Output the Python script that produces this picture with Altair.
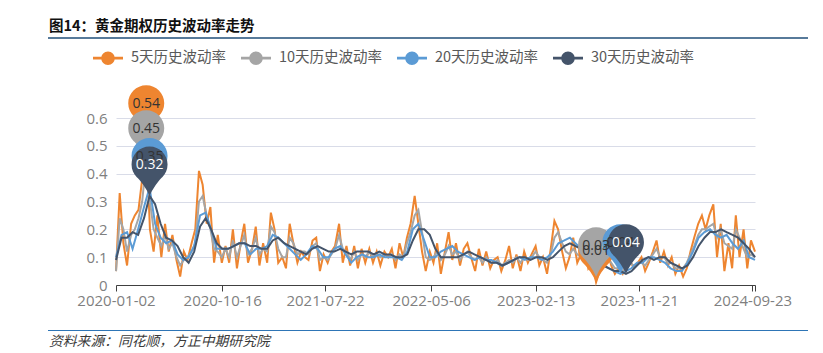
import altair as alt
import pandas as pd

TITLE = "图14：黄金期权历史波动率走势"
SOURCE = "资料来源：同花顺，方正中期研究院"
SERIES = ["5天历史波动率", "10天历史波动率", "20天历史波动率", "30天历史波动率"]
COLORS = ["#EE8530", "#A5A5A5", "#5B9BD5", "#44546A"]
START, END = "2020-01-02", "2024-09-30"
TICK_DATES = ["2020-01-02", "2020-10-16", "2021-07-22", "2022-05-06",
              "2023-02-13", "2023-11-21", "2024-09-23"]
Y_TICKS = [0, 0.1, 0.2, 0.3, 0.4, 0.5, 0.6]

vol5 = [0.05, 0.33, 0.15, 0.07, 0.22, 0.25, 0.27, 0.38, 0.54, 0.2, 0.12, 0.25, 0.1, 0.22, 0.12,
        0.18, 0.09, 0.03, 0.12, 0.09, 0.15, 0.2, 0.41, 0.36, 0.22, 0.28, 0.08, 0.18, 0.08,
        0.14, 0.08, 0.2, 0.06, 0.15, 0.22, 0.08, 0.13, 0.21, 0.07, 0.15, 0.08, 0.26, 0.2, 0.08,
        0.1, 0.06, 0.22, 0.15, 0.08, 0.12, 0.1, 0.09, 0.16, 0.17, 0.05, 0.11, 0.08, 0.12, 0.14,
        0.22, 0.08, 0.14, 0.07, 0.14, 0.06, 0.13, 0.08, 0.13, 0.08, 0.12,
        0.07, 0.12, 0.1, 0.13, 0.06, 0.15, 0.1, 0.17, 0.22, 0.32, 0.22, 0.12, 0.05, 0.12, 0.08,
        0.15, 0.04, 0.12, 0.19, 0.09, 0.15, 0.07, 0.13, 0.15, 0.1, 0.05, 0.13, 0.07, 0.12, 0.06,
        0.09, 0.1, 0.05, 0.09,
        0.14, 0.06, 0.11, 0.05, 0.12, 0.08, 0.11, 0.14, 0.07, 0.1, 0.04, 0.13, 0.23, 0.2, 0.12,
        0.06, 0.1, 0.17, 0.08, 0.11, 0.16, 0.06, 0.08, 0.01, 0.05, 0.1, 0.12, 0.07, 0.04, 0.06,
        0.04, 0.08, 0.09, 0.06, 0.08,
        0.1, 0.05, 0.08, 0.12, 0.16, 0.08, 0.12, 0.07, 0.1, 0.04, 0.07, 0.03, 0.06, 0.12, 0.17,
        0.22, 0.25, 0.2, 0.25, 0.29, 0.1, 0.22, 0.05, 0.15, 0.06, 0.25, 0.1, 0.2, 0.06, 0.16, 0.12]

vol10 = [0.05, 0.24, 0.2, 0.12, 0.18, 0.2, 0.24, 0.3, 0.45, 0.3, 0.2, 0.17, 0.14, 0.18, 0.13,
         0.15, 0.1, 0.07, 0.09, 0.1, 0.12, 0.15, 0.3, 0.32, 0.25, 0.2, 0.13, 0.12, 0.1,
         0.13, 0.1, 0.16, 0.1, 0.14, 0.18, 0.11, 0.13, 0.17, 0.11, 0.13, 0.12, 0.21, 0.19, 0.13,
         0.1, 0.1, 0.17, 0.15, 0.11, 0.12, 0.12, 0.11, 0.14, 0.15, 0.09, 0.1, 0.09, 0.11, 0.13,
         0.18, 0.13, 0.12, 0.09, 0.12, 0.09, 0.11, 0.1, 0.12, 0.1, 0.11,
         0.1, 0.11, 0.1, 0.11, 0.09, 0.11, 0.1, 0.15, 0.19, 0.25, 0.27, 0.19, 0.1, 0.09, 0.1,
         0.12, 0.09, 0.11, 0.14, 0.11, 0.12, 0.09, 0.11, 0.12, 0.1, 0.09, 0.1, 0.08, 0.1, 0.08,
         0.08, 0.09, 0.07, 0.08,
         0.09, 0.08, 0.1, 0.08, 0.1, 0.09, 0.1, 0.12, 0.1, 0.09, 0.08, 0.11, 0.17, 0.19, 0.15,
         0.12, 0.11, 0.13, 0.11, 0.1, 0.11, 0.08, 0.06, 0.03, 0.05, 0.08, 0.1, 0.08, 0.06, 0.06,
         0.05, 0.07, 0.08, 0.07, 0.08,
         0.08, 0.07, 0.09, 0.11, 0.13, 0.1, 0.1, 0.08, 0.08, 0.06, 0.06, 0.06, 0.08, 0.11, 0.14,
         0.18, 0.2, 0.2, 0.21, 0.22, 0.17, 0.2, 0.15, 0.14, 0.13, 0.2, 0.17, 0.13, 0.1, 0.11, 0.1]

vol20 = [0.1, 0.18, 0.19, 0.13, 0.2, 0.28, 0.35, 0.22, 0.17, 0.15, 0.16, 0.11, 0.09, 0.1, 0.14,
         0.25, 0.26, 0.2, 0.13, 0.13,
         0.13, 0.14, 0.15, 0.15, 0.11, 0.13, 0.13, 0.14, 0.18, 0.17, 0.15, 0.13, 0.11, 0.09, 0.11,
         0.14, 0.13, 0.1, 0.1, 0.13, 0.14, 0.11, 0.08, 0.1, 0.11, 0.1, 0.1,
         0.11, 0.1, 0.1, 0.1, 0.09, 0.12, 0.2, 0.22, 0.16, 0.1, 0.1, 0.12, 0.13, 0.14, 0.12,
         0.11, 0.1, 0.09, 0.1, 0.09, 0.09, 0.08, 0.07, 0.08,
         0.09, 0.1, 0.09, 0.1, 0.1, 0.09, 0.1, 0.12, 0.15, 0.16, 0.17, 0.15, 0.13, 0.11, 0.09,
         0.08, 0.07, 0.06, 0.05, 0.04, 0.05, 0.06, 0.08,
         0.08, 0.1, 0.1, 0.09, 0.08, 0.06, 0.05, 0.05, 0.08, 0.12, 0.17, 0.19, 0.2, 0.18, 0.17,
         0.18, 0.15, 0.13, 0.16, 0.1, 0.09]

vol30 = [0.09, 0.17, 0.17, 0.19, 0.18, 0.24, 0.32, 0.29, 0.22, 0.17, 0.16, 0.14, 0.1, 0.08, 0.12,
         0.21, 0.24, 0.2, 0.15, 0.13,
         0.13, 0.14, 0.15, 0.15, 0.14, 0.14, 0.13, 0.13, 0.16, 0.17, 0.15, 0.14, 0.13, 0.12, 0.11,
         0.13, 0.14, 0.13, 0.12, 0.12, 0.13, 0.12, 0.11, 0.12, 0.12, 0.12, 0.11,
         0.12, 0.11, 0.11, 0.1, 0.1, 0.11, 0.16, 0.2, 0.2, 0.18, 0.13, 0.1, 0.1, 0.1, 0.1,
         0.11, 0.12, 0.11, 0.1, 0.09, 0.08, 0.08, 0.07, 0.08,
         0.09, 0.1, 0.1, 0.09, 0.1, 0.1, 0.09, 0.1, 0.12, 0.14, 0.15, 0.14, 0.13, 0.11, 0.09,
         0.08, 0.07, 0.06, 0.05, 0.05, 0.04, 0.05, 0.07,
         0.09, 0.1, 0.09, 0.1, 0.1, 0.08, 0.07, 0.06, 0.07, 0.1, 0.14, 0.17, 0.19, 0.19, 0.2,
         0.19, 0.18, 0.17, 0.15, 0.13, 0.1]


def frame(name, idx, vals):
    dates = pd.date_range(START, END, periods=len(vals)).strftime("%Y-%m-%d")
    return pd.DataFrame({"date": list(dates), "series": name, "sidx": idx, "value": vals})


df = pd.concat([frame(SERIES[i], i, v) for i, v in enumerate([vol5, vol10, vol20, vol30])],
               ignore_index=True)


def ms(d):
    return int(pd.Timestamp(d, tz="UTC").value // 10**6)


tick_ms = [ms(d) for d in TICK_DATES] + [ms(END)]
last_label = ms(TICK_DATES[-1])

CJK = "Noto Sans CJK SC"
NUM = "Open Sans"

PIN = ("M0,-2.75C0.5523,-2.75,1,-2.3023,1,-1.75C1,-1.1977,0.5523,-0.75,0,-0.75"
       "C-0.5523,-0.75,-1,-1.1977,-1,-1.75C-1,-2.3023,-0.5523,-2.75,0,-2.75Z"
       "M0,0Q-0.25,-0.6,-0.821,-1.179L0.821,-1.179Q0.25,-0.6,0,0Z")
LEG = ("M-1,-0.09L1,-0.09L1,0.09L-1,0.09Z"
       "M0.45,0C0.45,0.2485,0.2485,0.45,0,0.45C-0.2485,0.45,-0.45,0.2485,-0.45,0"
       "C-0.45,-0.2485,-0.2485,-0.45,0,-0.45C0.2485,-0.45,0.45,-0.2485,0.45,0Z")

x_enc = alt.X("date:T",
              scale=alt.Scale(type="utc", domain=[ms(START), ms(END)]),
              axis=alt.Axis(values=tick_ms, format="%Y-%m-%d",
                            labelExpr=f"datum.value > {last_label} ? '' : datum.label",
                            title=None, grid=False, domainColor="#404040", tickColor="#404040",
                            tickSize=6, labelColor="#7F7F7F", labelFont=NUM, labelFontSize=15,
                            labelPadding=2, labelFlush=False, labelOverlap=False))
y_enc = alt.Y("value:Q",
              scale=alt.Scale(domain=[0, 0.6], nice=False),
              axis=alt.Axis(values=Y_TICKS, format="~g", title=None, domain=False, ticks=False,
                            grid=True, gridColor="#D9DCE8", gridWidth=1,
                            labelColor="#7F7F7F", labelFont=NUM, labelFontSize=15,
                            labelPadding=9))

base = alt.Chart(df)

# lines are coloured through the series index so that their (hidden) stroke legend
# is not merged with the visible colour legend of the pins
lines = base.mark_line(interpolate="linear").encode(
    x=x_enc, y=y_enc,
    stroke=alt.Stroke("sidx:N", scale=alt.Scale(domain=[0, 1, 2, 3], range=COLORS),
                      legend=None),
    strokeWidth=alt.StrokeWidth("sidx:N",
                                scale=alt.Scale(domain=[0, 1, 2, 3], range=[2, 2, 2, 2.5]),
                                legend=None),
)

pins = base.transform_joinaggregate(
    vmax="max(value)", vmin="min(value)", groupby=["series"]
).transform_filter("datum.value == datum.vmax || datum.value == datum.vmin")

pin_marks = pins.mark_point(shape=PIN, size=1296, filled=True, opacity=1,
                            strokeWidth=0).encode(
    x=x_enc, y=y_enc,
    color=alt.Color("series:N", scale=alt.Scale(domain=SERIES, range=COLORS),
                    legend=alt.Legend(title=None, orient="none", direction="horizontal",
                                      legendX=-23, legendY=-75, padding=0,
                                      symbolType=LEG, symbolSize=900, symbolStrokeWidth=0,
                                      symbolOpacity=1, labelOffset=8, columnPadding=14,
                                      labelFont=CJK, labelFontSize=14.5,
                                      labelColor="#595959", labelLimit=300)),
    order=alt.Order("sidx:Q"),
)

pin_text = pins.mark_text(dy=-31, baseline="middle", align="center", font=NUM,
                          fontSize=14).encode(
    x=x_enc, y=y_enc,
    text=alt.Text("value:Q", format=".2f"),
    color=alt.condition("datum.sidx == 3", alt.value("#FFFFFF"), alt.value("#333333")),
    order=alt.Order("sidx:Q"),
)

title = alt.Chart(pd.DataFrame({"t": [TITLE]})).mark_text(
    align="left", baseline="alphabetic", font=CJK, fontSize=14.5, fontWeight="bold",
    color="#111111").encode(x=alt.value(-67), y=alt.value(-87), text="t:N")

footer = alt.Chart(pd.DataFrame({"t": [SOURCE]})).mark_text(
    align="left", baseline="alphabetic", font=CJK, fontSize=13.8, fontStyle="italic",
    color="#3A3A3A").encode(x=alt.value(-67), y=alt.value(228), text="t:N")

top_rule = alt.Chart(pd.DataFrame({"k": [0]})).mark_rule(
    color="#1F4E79", strokeWidth=1.5).encode(
    x=alt.value(-68), x2=alt.value(692), y=alt.value(-80))

bottom_rule = alt.Chart(pd.DataFrame({"k": [0]})).mark_rule(
    color="#2E75B6", strokeWidth=1.2).encode(
    x=alt.value(-68), x2=alt.value(692), y=alt.value(212.5))

chart = alt.layer(lines, pin_marks, pin_text, title, footer, top_rule, bottom_rule).properties(
    width=639, height=167,
    autosize=alt.AutoSizeParams(type="none"),
    padding={"left": 116, "top": 118, "right": 68, "bottom": 68},
    background="white",
).configure_view(stroke=None)

chart.save("out.html", embed_options={"renderer": "svg", "actions": False})
